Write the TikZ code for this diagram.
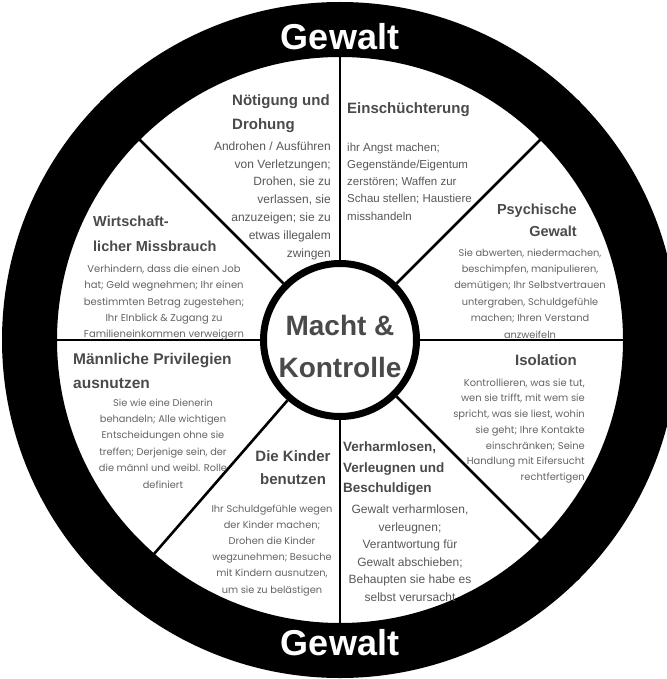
\documentclass[tikz,border=0pt]{standalone}
\usepackage{fontspec}
\setmainfont{Liberation Sans}
\newfontfamily\softfont{Poppins}
\usetikzlibrary{calc}
\definecolor{headgray}{RGB}{74,74,74}
\definecolor{textgray}{RGB}{88,88,88}
\definecolor{softgray}{RGB}{100,100,100}

\begin{document}
\begin{tikzpicture}[x=1pt, y=-1pt,
    head/.style={inner sep=0pt, text=headgray, font=\bfseries\fontsize{15}{24}\selectfont},
    body/.style={inner sep=0pt, text=textgray, font=\fontsize{12}{17.8}\selectfont},
    soft/.style={inner sep=0pt, text=softgray, align=center, font=\softfont\fontsize{10}{16.4}\selectfont},
    word/.style={inner sep=0pt, text=white, font=\bfseries\fontsize{36}{36}\selectfont},
    spoke/.style={line width=2.6pt}]
  \fill[white] (0,0) rectangle (666,679);
  \useasboundingbox (0,0) rectangle (666,679);
  % wheel
  \node[circle, draw, line width=55pt, minimum size=621pt, inner sep=0pt] (rim) at (340,340) {};
  \node[circle, draw, line width=7pt, minimum size=153pt, inner sep=0pt, fill=white] (hub) at (340,340) {};
  \foreach \a in {0,45,90,135,180,229,270,315}
    \draw[spoke] (hub.\a) -- (rim.\a);
  \node[text=headgray, inner sep=0pt, align=center, font=\bfseries\fontsize{28}{42}\selectfont] (title) at (340,346) {Macht \&\\Kontrolle};
  \node[word] (topword) at (340,37) {Gewalt};
  \node[word] (botword) at (340,643) {Gewalt};
  % top left
  \node[head, anchor=north west, align=left] (coerceH) at (232,94) {Nötigung und\\Drohung};
  \node[body, anchor=north east, align=right] (coerceB) at (331,141.5)
       {Androhen / Ausführen\\von Verletzungen;\\Drohen, sie zu\\verlassen, sie\\anzuzeigen; sie zu\\etwas illegalem\\zwingen};
  % top right
  \node[head, anchor=north west] (threatH) at (347,102) {Einschüchterung};
  \node[body, anchor=north west, align=left, font=\fontsize{11.5}{17.3}\selectfont] (threatB) at (347,142.5)
       {ihr Angst machen;\\Gegenstände/Eigentum\\zerstören; Waffen zur\\Schau stellen; Haustiere\\misshandeln};
  % upper left
  \node[head, anchor=north west, align=left, font=\bfseries\fontsize{14.5}{25}\selectfont] (moneyH) at (93,216) {Wirtschaft-\\licher Missbrauch};
  \node[soft, anchor=north] (moneyB) at (164,264.5)
       {Verhindern, dass die einen Job\\hat; Geld wegnehmen; Ihr einen\\bestimmten Betrag zugestehen;\\Ihr EInblick \& Zugang zu\\Familieneinkommen verweigern};
  % upper right
  \node[head, anchor=north east, align=right, font=\bfseries\fontsize{14.5}{22}\selectfont] (mindH) at (577,204) {Psychische\\Gewalt};
  \node[soft, anchor=north, font=\softfont\fontsize{9.8}{16.4}\selectfont] (mindB) at (530,248.5)
       {Sie abwerten, niedermachen,\\beschimpfen, manipulieren,\\demütigen; Ihr Selbstvertrauen\\untergraben, Schuldgefühle\\machen; Ihren Verstand\\anzweifeln};
  % lower left
  \node[head, anchor=north west, align=left, font=\bfseries\fontsize{15.5}{24}\selectfont] (privH) at (73,353) {Männliche Privilegien\\ausnutzen};
  \node[soft, anchor=north, font=\softfont\fontsize{9.8}{16.4}\selectfont] (privB) at (163,398.5)
       {Sie wie eine Dienerin\\behandeln; Alle wichtigen\\Entscheidungen ohne sie\\treffen; Derjenige sein, der\\die männl und weibl. Rolle\\definiert};
  % lower right
  \node[head, anchor=north east] (isoH) at (577,354) {Isolation};
  \node[soft, anchor=north east, align=right, font=\softfont\fontsize{9.9}{15.7}\selectfont] (isoB) at (585,378.5)
       {Kontrollieren, was sie tut,\\wen sie trifft, mit wem sie\\spricht, was sie liest, wohin\\sie geht; Ihre Kontakte\\einschränken; Seine\\Handlung mit Eifersucht\\rechtfertigen};
  % bottom left
  \node[head, anchor=north, align=center, font=\bfseries\fontsize{15}{23}\selectfont] (kidsH) at (293,450) {Die Kinder\\benutzen};
  \node[soft, anchor=north, font=\softfont\fontsize{9.8}{16.2}\selectfont] (kidsB) at (272,504.5)
       {Ihr Schuldgefühle wegen\\der Kinder machen;\\Drohen die Kinder\\wegzunehmen; Besuche\\mit Kindern ausnutzen,\\um sie zu belästigen};
  % bottom right
  \node[head, anchor=north west, align=left, font=\bfseries\fontsize{13.5}{20.5}\selectfont] (denyH) at (343,442) {Verharmlosen,\\Verleugnen und\\Beschuldigen};
  \node[body, anchor=north, align=center, font=\fontsize{12}{17.6}\selectfont] (denyB) at (410,504.5)
       {Gewalt verharmlosen,\\verleugnen;\\Verantwortung für\\Gewalt abschieben;\\Behaupten sie habe es\\selbst verursacht};
\end{tikzpicture}
\end{document}
